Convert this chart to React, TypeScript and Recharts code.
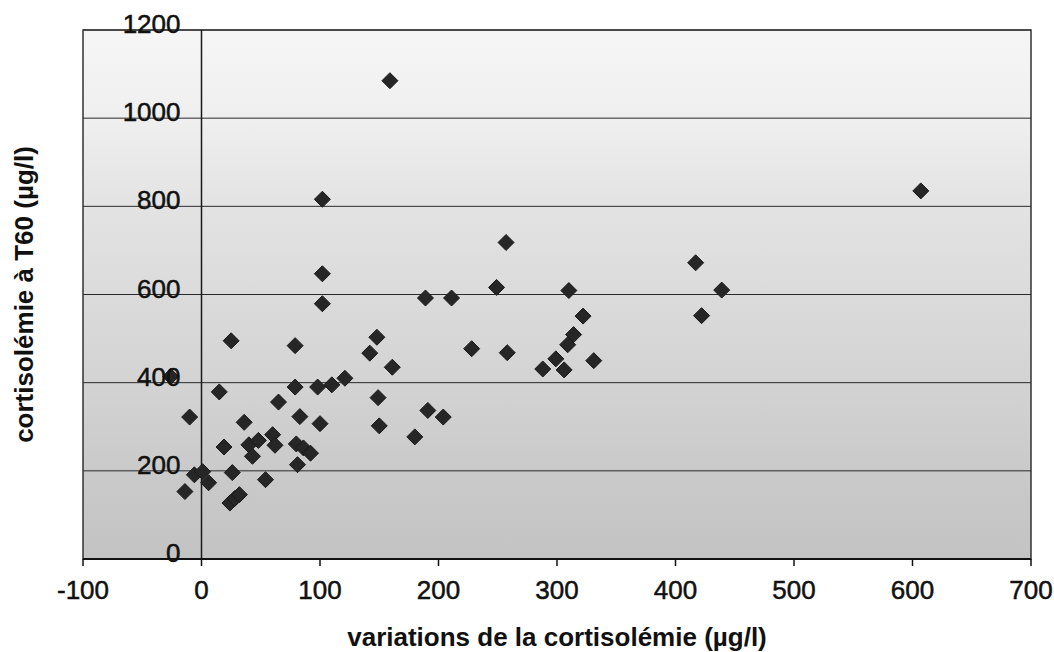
import React from "react";
import {
  ScatterChart,
  Scatter,
  XAxis,
  YAxis,
  CartesianGrid,
  ReferenceLine,
  ReferenceArea,
  Label,
} from "recharts";

const variations = [
  -26, -10, -14, -6, 1, 6, 15, 19, 25, 26, 24, 28, 32, 36, 40, 43, 48, 54, 60, 62,
  65, 79, 79, 80, 86, 92, 81, 83, 98, 100, 102, 102, 102, 110, 121,
  159, 257, 249, 310, 189, 211, 322, 148, 314, 142, 309, 228, 258, 299, 331, 288,
  306, 161, 149, 191, 204, 150, 180,
  607, 417, 439, 422,
];
const cortisolT60 = [
  414, 322, 153, 191, 198, 173, 379, 254, 495, 196, 127, 137, 146, 310, 259, 233, 269, 180, 282, 258,
  356, 484, 390, 261, 252, 240, 214, 323, 390, 307, 816, 647, 579, 395, 410,
  1085, 718, 616, 609, 592, 592, 551, 503, 509, 467, 486, 477, 468, 454, 450, 431,
  429, 435, 366, 337, 322, 302, 277,
  835, 672, 610, 552,
];
const xTicks = [-100, 0, 100, 200, 300, 400, 500, 600, 700];
const yTicks = [0, 200, 400, 600, 800, 1000, 1200];

const points = variations.map((x, i) => ({ x, y: cortisolT60[i] }));

const W = 1054;
const H = 652;
const PLOT_LEFT = 83;
const PLOT_RIGHT = 1031;
const PLOT_TOP = 30;
const PLOT_BOTTOM = 559;
const X_MIN = -100;
const X_MAX = 700;
const ZERO_X =
  PLOT_LEFT + ((0 - X_MIN) / (X_MAX - X_MIN)) * (PLOT_RIGHT - PLOT_LEFT);

const FONT = "'Liberation Sans', Arial, Helvetica, sans-serif";
const TICK_SIZE = 26;

const Diamond = (props: any) => {
  const { cx, cy } = props;
  if (cx == null || cy == null) return null;
  const r = 8;
  return (
    <polygon
      points={`${cx},${cy - r} ${cx + r},${cy} ${cx},${cy + r} ${cx - r},${cy}`}
      fill="#262626"
      stroke="#1a1a1a"
      strokeWidth={1}
      strokeLinejoin="round"
    />
  );
};

const YTick = (props: any) => {
  const { y, payload } = props;
  return (
    <text
      x={ZERO_X - 21}
      y={y - 6}
      textAnchor="end"
      dominantBaseline="central"
      fontFamily={FONT}
      fontSize={TICK_SIZE}
      fill="#111"
      stroke="#111"
      strokeWidth={0.5}
    >
      {payload.value}
    </text>
  );
};

const XTick = (props: any) => {
  const { x, y, payload } = props;
  return (
    <text
      x={x}
      y={y + 14}
      textAnchor="middle"
      dominantBaseline="central"
      fontFamily={FONT}
      fontSize={TICK_SIZE}
      fill="#111"
      stroke="#111"
      strokeWidth={0.5}
    >
      {payload.value}
    </text>
  );
};

const XTitle = () => (
  <text
    x={(PLOT_LEFT + PLOT_RIGHT) / 2}
    y={637}
    textAnchor="middle"
    dominantBaseline="central"
    fontFamily={FONT}
    fontSize={26}
    fontWeight="bold"
    fill="#111"
  >
    variations de la cortisolémie (µg/l)
  </text>
);

const YTitle = () => {
  const cx = 24;
  const cy = (PLOT_TOP + PLOT_BOTTOM) / 2;
  return (
    <text
      x={cx}
      y={cy}
      transform={`rotate(-90, ${cx}, ${cy})`}
      textAnchor="middle"
      dominantBaseline="central"
      fontFamily={FONT}
      fontSize={26}
      fontWeight="bold"
      fill="#111"
    >
      cortisolémie à T60 (µg/l)
    </text>
  );
};

export default function App() {
  return (
    <div
      style={{
        position: "absolute",
        left: 0,
        top: 0,
        width: W,
        height: H,
        background: "#fff",
        overflow: "hidden",
      }}
    >
      <ScatterChart
        width={W}
        height={H}
        margin={{ top: PLOT_TOP, right: W - PLOT_RIGHT, left: 0, bottom: 0 }}
      >
        <defs>
          <linearGradient
            id="bgGrad"
            gradientUnits="userSpaceOnUse"
            x1="0"
            y1={PLOT_TOP}
            x2="0"
            y2={PLOT_BOTTOM}
          >
            <stop offset="0" stopColor="#f6f6f6" />
            <stop offset="0.17" stopColor="#efefef" />
            <stop offset="0.33" stopColor="#e3e3e3" />
            <stop offset="0.5" stopColor="#dbdbdb" />
            <stop offset="0.67" stopColor="#d3d3d3" />
            <stop offset="0.83" stopColor="#cacaca" />
            <stop offset="1" stopColor="#c3c3c3" />
          </linearGradient>
        </defs>
        <CartesianGrid
          vertical={false}
          stroke="#2a2a2a"
          strokeWidth={1}
          fill="url(#bgGrad)"
          fillOpacity={1}
        />
        <XAxis
          type="number"
          dataKey="x"
          domain={[X_MIN, X_MAX]}
          ticks={xTicks}
          interval={0}
          height={H - PLOT_BOTTOM}
          tickSize={7}
          tickMargin={10}
          axisLine={{ stroke: "#111", strokeWidth: 2 }}
          tickLine={{ stroke: "#111", strokeWidth: 1.5 }}
          tick={<XTick />}
          allowDataOverflow
        >
          <Label content={<XTitle />} />
        </XAxis>
        <YAxis
          type="number"
          dataKey="y"
          domain={[0, 1200]}
          ticks={yTicks}
          interval={0}
          width={PLOT_LEFT}
          axisLine={false}
          tickLine={false}
          tick={<YTick />}
          allowDataOverflow
        >
          <Label content={<YTitle />} />
        </YAxis>
        <ReferenceArea
          x1={X_MIN}
          x2={X_MAX}
          y1={0}
          y2={1200}
          fill="none"
          fillOpacity={0}
          stroke="#333"
          strokeWidth={1.5}
          ifOverflow="visible"
        />
        <ReferenceLine x={0} stroke="#1a1a1a" strokeWidth={1.5} />
        <Scatter
          data={points}
          shape={<Diamond />}
          isAnimationActive={false}
        />
      </ScatterChart>
    </div>
  );
}
